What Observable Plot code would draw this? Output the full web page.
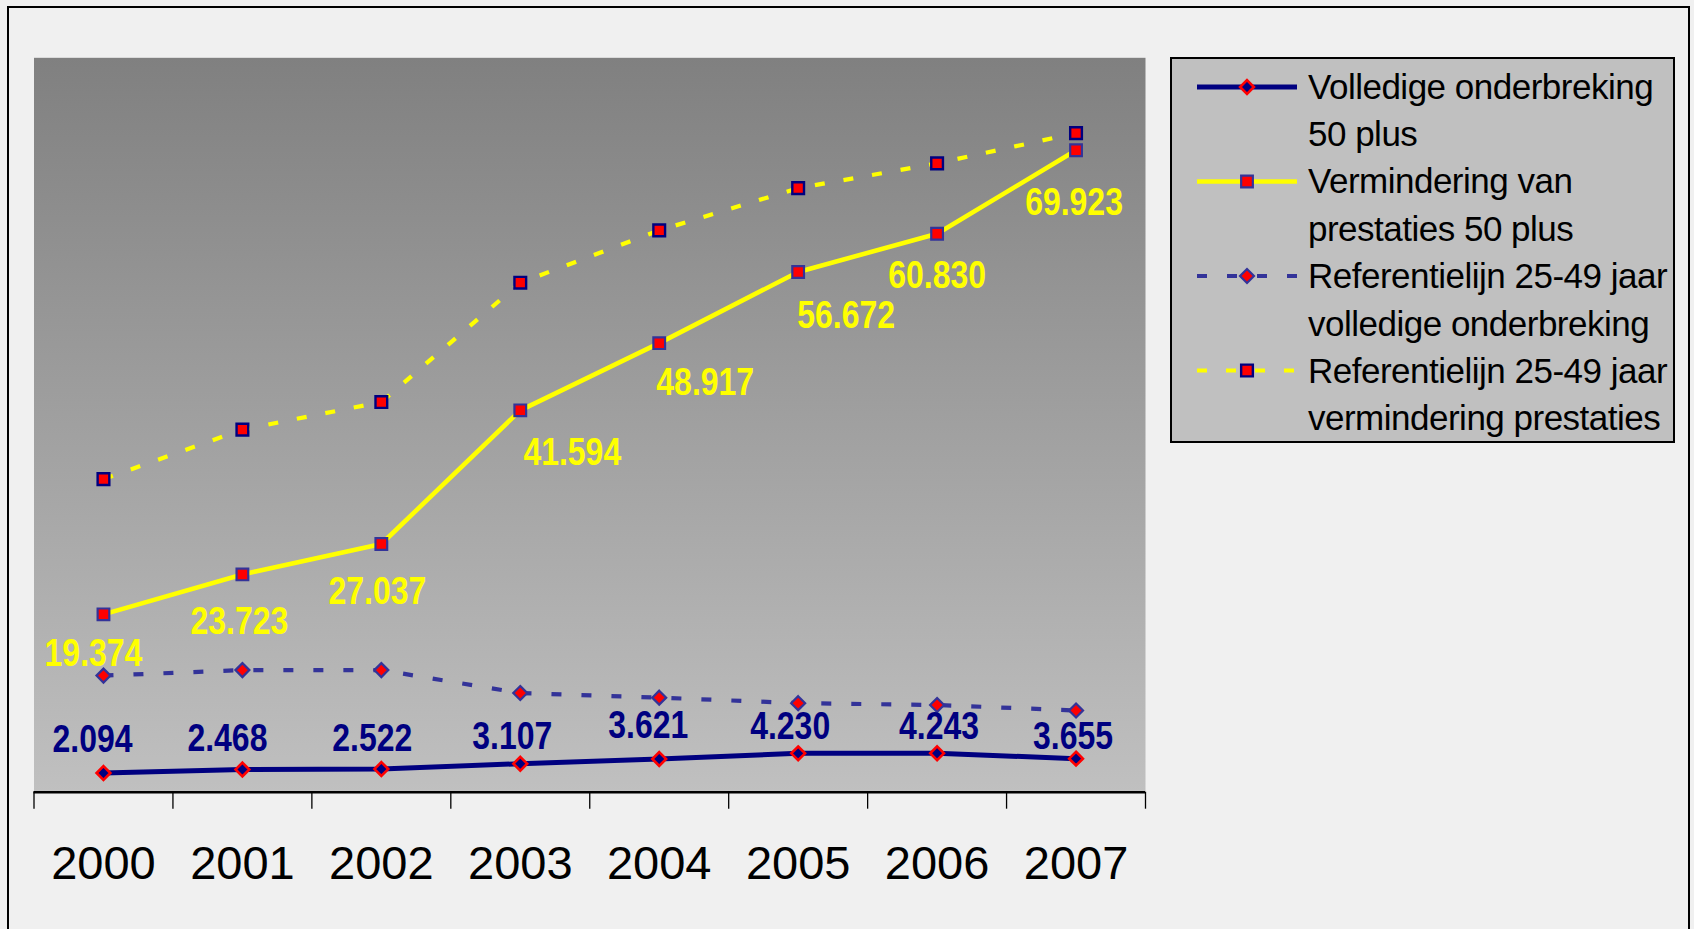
<!DOCTYPE html>
<html>
<head>
<meta charset="utf-8">
<script src="https://cdn.jsdelivr.net/npm/d3@7"></script>
<script src="https://cdn.jsdelivr.net/npm/@observablehq/plot@0.6"></script>
<style>
  html, body { margin: 0; padding: 0; background: #f0f0f0; overflow: hidden; }
  #wrap { position: relative; width: 1694px; height: 929px; }
  #chart { position: absolute; left: 0; top: 0; }
  #frame { position: absolute; left: 7px; top: 6px; width: 1683px; height: 960px;
           border: 2.4px solid #000; box-sizing: border-box; pointer-events: none; }
  #legend { position: absolute; left: 1170px; top: 57px; width: 505px; height: 386px;
            background: #c0c0c0; border: 2px solid #000; box-sizing: border-box; }
  #legend svg { position: absolute; left: -2px; top: -2px; overflow: visible; }
</style>
</head>
<body>
<div id="wrap">
  <div id="chart"></div>
  <div id="legend"></div>
  <div id="frame"></div>
</div>
<script>
// ---- data ----
const years = [2000, 2001, 2002, 2003, 2004, 2005, 2006, 2007];
const volledige50 = [2.094, 2.468, 2.522, 3.107, 3.621, 4.230, 4.243, 3.655];
const vermindering50 = [19.374, 23.723, 27.037, 41.594, 48.917, 56.672, 60.830, 69.923];
const refVolledige = [12.7, 13.3, 13.3, 10.8, 10.3, 9.7, 9.5, 8.9];
const refVermindering = [34.1, 39.5, 42.5, 55.5, 61.2, 65.8, 68.5, 71.8];
const seriesNames = [
  ["Volledige onderbreking", "50 plus"],
  ["Vermindering van", "prestaties 50 plus"],
  ["Referentielijn 25-49 jaar", "volledige onderbreking"],
  ["Referentielijn 25-49 jaar", "vermindering prestaties"]
];

// ---- label nudges (pixels, relative to the point) ----
const nudgeVermindering = [[-10, 39], [-3, 47], [-4, 48], [52, 42], [46, 39], [48, 44], [0, 42], [-2, 52]];
const nudgeVolledige = [[-11, -33], [-15, -31], [-9, -31], [-8, -27], [-11, -33], [-8, -27], [2, -27], [-3, -22]];

const rows = arr => years.map((year, i) => ({year, value: arr[i]}));
const dVol = rows(volledige50), dVer = rows(vermindering50),
      dRefVol = rows(refVolledige), dRefVer = rows(refVermindering);

const styles = [
  {stroke: "#000080", width: 5, dash: null, symbol: "diamond2", r: 6.2, fill: "#000080", mstroke: "#ff0000", mw: 2.6},
  {stroke: "#ffff00", width: 4.6, dash: null, symbol: "square", r: 6.6, fill: "#ff0000", mstroke: "#333399", mw: 2.2},
  {stroke: "#333399", width: 4.2, dash: "10,20", symbol: "diamond2", r: 6.3, fill: "#ff0000", mstroke: "#333399", mw: 2.2},
  {stroke: "#ffff00", width: 4.2, dash: "10,19", symbol: "square", r: 6.6, fill: "#ff0000", mstroke: "#000080", mw: 2.4}
];
const datasets = [dVol, dVer, dRefVol, dRefVer];

const defsMark = () => {
  const defs = d3.create("svg:defs");
  const g = defs.append("linearGradient").attr("id", "plotbg")
    .attr("x1", 0).attr("y1", 0).attr("x2", 0).attr("y2", 1);
  g.append("stop").attr("offset", "0%").attr("stop-color", "#808080");
  g.append("stop").attr("offset", "100%").attr("stop-color", "#c0c0c0");
  return defs.node();
};

const boundaries = [years[0] - 0.5, ...years.map(y => y + 0.5)];
const fmt = d3.format(".3f");
const labelFont = "'Liberation Sans', Arial, sans-serif";

const marks = [
  defsMark,
  Plot.frame({fill: "url(#plotbg)", stroke: null}),
  Plot.axisX({ticks: boundaries, tickSize: 17, tickFormat: () => "", label: null, stroke: "#000", strokeWidth: 1.3}),
  Plot.axisX({ticks: years, tickSize: 0, tickPadding: 53, tickFormat: d => String(d), label: null, fontSize: 47, fill: "#000"}),
  Plot.ruleY([0], {stroke: "#000", strokeWidth: 2.6})
];
datasets.forEach((d, k) => {
  const s = styles[k];
  marks.push(Plot.line(d, {x: "year", y: "value", stroke: s.stroke, strokeWidth: s.width,
    strokeDasharray: s.dash, strokeLinecap: "butt", strokeLinejoin: "miter"}));
  marks.push(Plot.dot(d, {x: "year", y: "value", symbol: s.symbol, r: s.r, fill: s.fill,
    stroke: s.mstroke, strokeWidth: s.mw}));
});
const labelMarks = (d, nudges, color) => d.map((row, i) =>
  Plot.text([row], {x: "year", y: "value", text: r => fmt(r.value), dx: nudges[i][0], dy: nudges[i][1],
    fill: color, fontSize: 39, fontWeight: "bold", fontFamily: labelFont, lineAnchor: "middle",
    textAnchor: "middle", className: "narrowlabel"}));
marks.push(...labelMarks(dVer, nudgeVermindering, "#ffff00"));
marks.push(...labelMarks(dVol, nudgeVolledige, "#000080"));

const chart = Plot.plot({
  width: 1694, height: 929,
  marginLeft: 33.5, marginRight: 549, marginTop: 57.3, marginBottom: 137.3,
  x: {type: "linear", domain: [years[0] - 0.5, years[years.length - 1] + 0.5]},
  y: {domain: [0, 80], axis: null},
  style: {background: "transparent", fontFamily: "'Liberation Sans', Arial, sans-serif", color: "#000", overflow: "visible"},
  marks
});
document.getElementById("chart").appendChild(chart);

// narrow the data labels horizontally (Arial Narrow look) around their anchor
d3.select(chart).selectAll(".narrowlabel text").each(function () {
  const x = +this.getAttribute("x") || 0;
  const t = this.getAttribute("transform") || "";
  this.setAttribute("transform", `${t} translate(${x},0) scale(0.82,1) translate(${-x},0)`);
});

// ---- legend ----
const lsvg = d3.select("#legend").append("svg").attr("width", 505).attr("height", 386);
const symPath = (name, r) => {
  const area = Math.PI * r * r;
  return d3.symbol(name === "square" ? d3.symbolSquare : d3.symbolDiamond2, area)();
};
seriesNames.forEach((lines, k) => {
  const s = styles[k];
  const cy = 30 + 94.5 * k;
  const g = lsvg.append("g");
  g.append("line").attr("x1", 27).attr("x2", 127).attr("y1", cy).attr("y2", cy)
    .attr("stroke", s.stroke).attr("stroke-width", s.width)
    .attr("stroke-dasharray", s.dash || null).attr("stroke-linecap", "butt");
  g.append("path").attr("d", symPath(s.symbol, s.r)).attr("transform", `translate(77,${cy})`)
    .attr("fill", s.fill).attr("stroke", s.mstroke).attr("stroke-width", s.mw);
  lines.forEach((t, j) => {
    g.append("text").attr("x", 138).attr("y", 41.6 + 47.4 * (2 * k + j))
      .attr("font-family", "'Liberation Sans', Arial, sans-serif").attr("font-size", 35)
      .attr("letter-spacing", "-0.5px").attr("fill", "#000").text(t);
  });
});
</script>
</body>
</html>
